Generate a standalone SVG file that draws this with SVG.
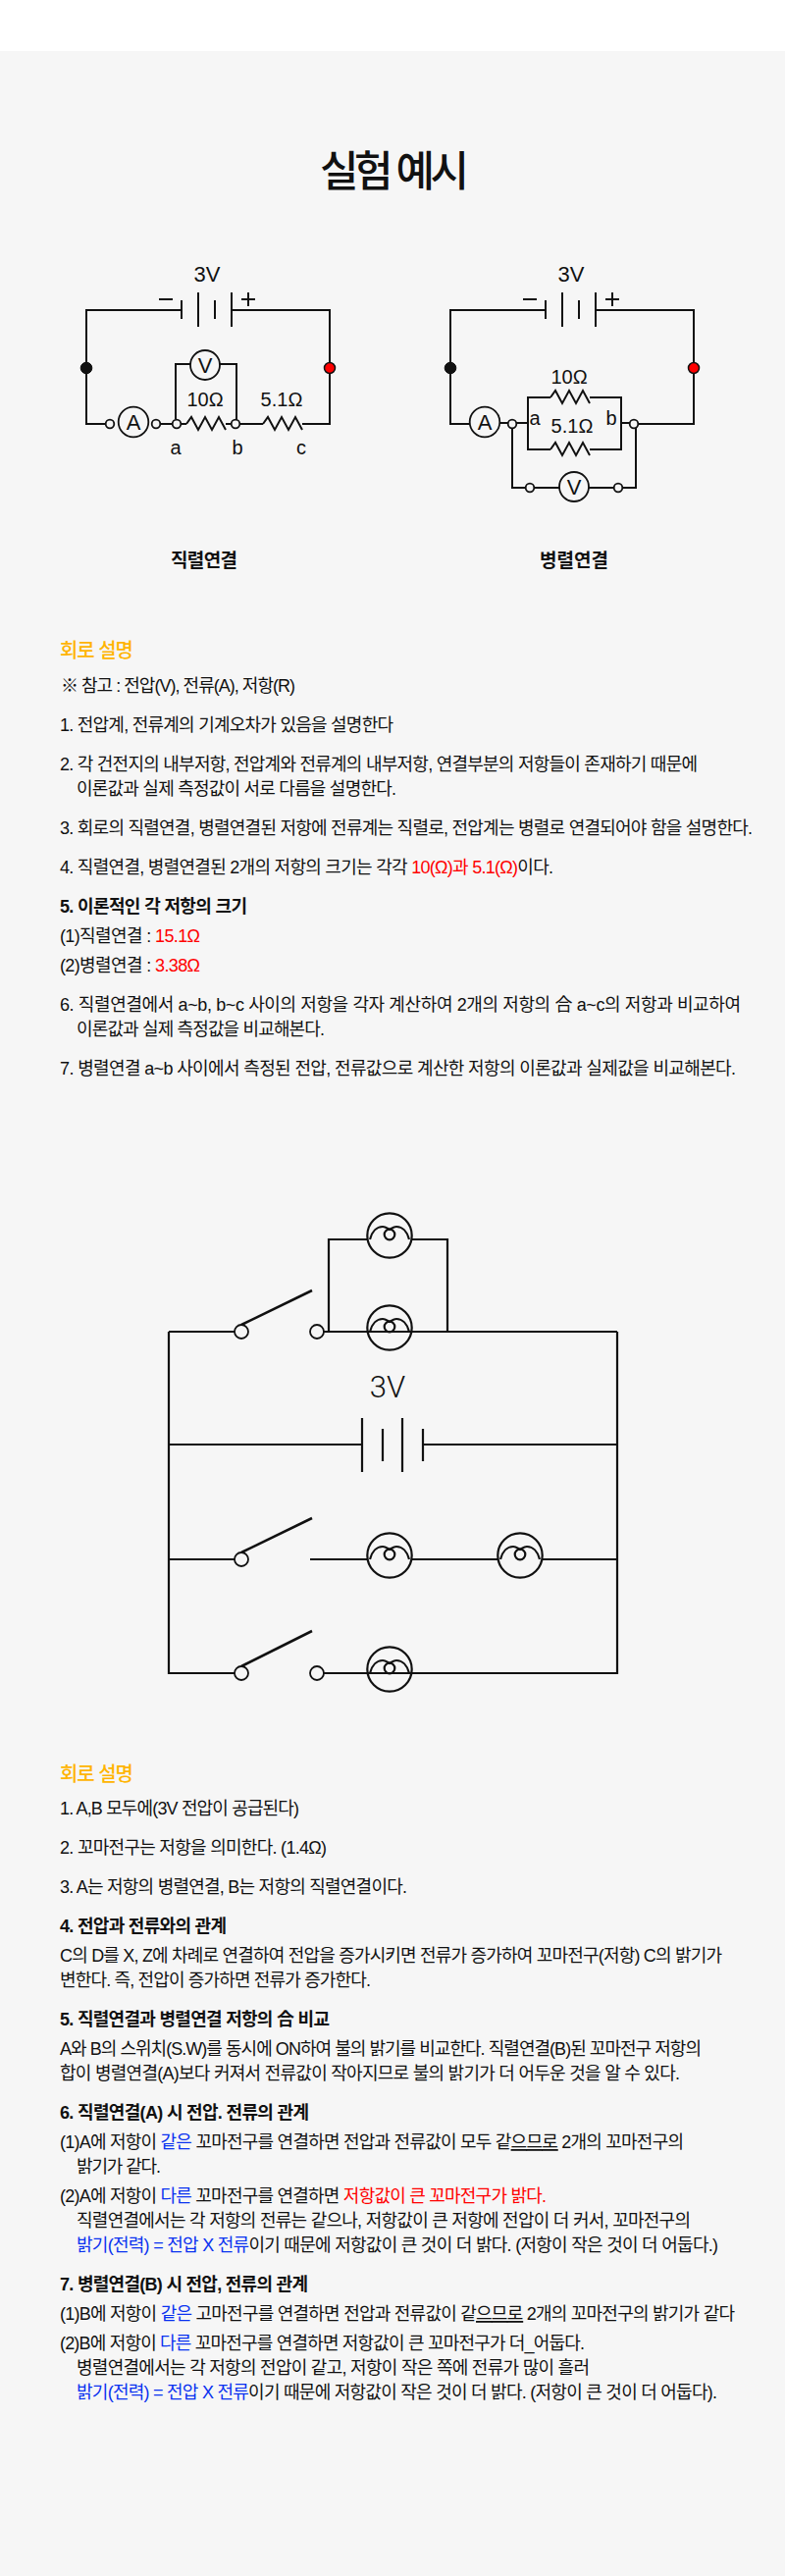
<svg xmlns="http://www.w3.org/2000/svg" width="800" height="2625" viewBox="0 0 800 2625">
<style>
text{font-family:"Liberation Sans","Noto Sans CJK KR",sans-serif;fill:#111;font-size:18px}
.w{fill:none;stroke:#111;stroke-width:2}
.w2{fill:none;stroke:#111;stroke-width:2.2}
.sw{fill:none;stroke:#111;stroke-width:2.6}
.t{fill:#f6f6f6;stroke:#111;stroke-width:1.8}
.m{fill:none;stroke:#111;stroke-width:1.8}
.b{font-weight:700}
.h{fill:#ffb400;font-size:20px;font-weight:500}
.r{fill:#f00}.bl{fill:#0a32f0}
.u{text-decoration:underline}
.l{font-size:20px}
.cap{font-size:19px;font-weight:700}
.sym{font-size:22px;text-anchor:middle}
.mid{text-anchor:middle}
</style>
<defs>
<path id="res" class="w" d="M0 0L5 -7L12 6L19 -7L26 6L33 -7L40 6"/>
<g id="bulb"><circle class="w2" r="22.7"/><circle class="w2" cy="-1" r="5.3"/><path class="w2" d="M-20 4C-18 -4 -13 -9 -7 -9C-4 -9 -2 -7 0 -6C2 -7 4 -9 7 -9C13 -9 18 -4 20 4"/></g>
<g id="batt1"><path class="w" d="M185 306V325M202 298V333M219 306V325M236 298V333"/><path class="w" d="M162 305H176M246 305H260M253 298V312"/></g>
</defs>
<rect width="800" height="2625" fill="#fff"/>
<rect y="52" width="800" height="2573" fill="#f6f6f6"/>
<text id="title" x="326" y="190" style="font-size:43px;font-weight:500" textLength="152" lengthAdjust="spacing">실험 예시</text>

<g id="connectors">
<path class="w" d="M185 316H88V432H108M236 316H336V432H308M268 432H244M230 432H236M184 432H190M163 432H176M179 427V371H194M224 371H241V428"/>
<path class="w" d="M556 316H459V432H479M607 316H707V432H650M510 431H518M526 431H538V405H561M601 405H633V431H642M538 431V458H561M601 458H633V431M522 436V497H536M544 497H570M600 497H626M634 497H648V436"/>
<path class="w2" d="M172 1357H239M330 1357H629M335 1357V1263H374M420 1263H456V1357M172 1357V1705H239M629 1357V1705H330M172 1472H369M431 1472H629M172 1589H239M316 1589H374M420 1589H507M553 1589H629"/>
</g>

<g id="circuit-series">
<use href="#batt1"/>
<text class="sym" x="211" y="287">3V</text>
<circle cx="88" cy="375" r="5.8" fill="#111" stroke="#111"/>
<circle cx="336" cy="375" r="5.5" fill="#f00" stroke="#111" stroke-width="1.5"/>
<g id="ammeter1"><circle class="m" cx="136" cy="430" r="15.3"/><text class="sym" x="136" y="438">A</text></g>
<g id="voltmeter1"><circle class="m" cx="209" cy="372" r="15"/><text class="sym" x="209" y="380">V</text></g>
<circle class="t" cx="112" cy="432" r="4.3"/><circle class="t" cx="159" cy="432" r="4.3"/><circle class="t" cx="180" cy="432" r="4.3"/><circle class="t" cx="240" cy="432" r="4.3"/>
<use href="#res" x="190" y="432"/><use href="#res" x="268" y="432"/>
<text class="l mid" x="209" y="414">10Ω</text><text class="l mid" x="287" y="414">5.1Ω</text>
<text class="l mid" x="179" y="463">a</text><text class="l mid" x="242" y="463">b</text><text class="l mid" x="307" y="463">c</text>
<text class="cap" x="174" y="578" textLength="68" lengthAdjust="spacing">직렬연결</text>
</g>

<g id="circuit-parallel">
<use href="#batt1" x="371"/>
<text class="sym" x="582" y="287">3V</text>
<circle cx="459" cy="375" r="5.8" fill="#111" stroke="#111"/>
<circle cx="707" cy="375" r="5.5" fill="#f00" stroke="#111" stroke-width="1.5"/>
<g id="ammeter2"><circle class="m" cx="494" cy="430" r="15.3"/><text class="sym" x="494" y="438">A</text></g>
<g id="voltmeter2"><circle class="m" cx="585" cy="496" r="15"/><text class="sym" x="585" y="504">V</text></g>
<circle class="t" cx="522" cy="432" r="4.3"/><circle class="t" cx="646" cy="432" r="4.3"/><circle class="t" cx="540" cy="497" r="4.3"/><circle class="t" cx="630" cy="497" r="4.3"/>
<use href="#res" x="561" y="405"/><use href="#res" x="561" y="458"/>
<text class="l mid" x="580" y="391">10Ω</text><text class="l mid" x="583" y="441">5.1Ω</text>
<text class="l mid" x="545" y="433">a</text><text class="l mid" x="623" y="433">b</text>
<text class="cap" x="550" y="578" textLength="70" lengthAdjust="spacing">병렬연결</text>
</g>

<g id="notes-1">
<text class="h" x="61" y="670" textLength="75" lengthAdjust="spacing">회로 설명</text>
<text x="62" y="705" textLength="239" lengthAdjust="spacing">※ 참고 : 전압(V), 전류(A), 저항(R)</text>
<text x="61" y="745" textLength="340" lengthAdjust="spacing">1. 전압계, 전류계의 기계오차가 있음을 설명한다</text>
<text x="61" y="785" textLength="650" lengthAdjust="spacing">2. 각 건전지의 내부저항, 전압계와 전류계의 내부저항, 연결부분의 저항들이 존재하기 때문에</text>
<text x="78" y="810" textLength="326" lengthAdjust="spacing">이론값과 실제 측정값이 서로 다름을 설명한다.</text>
<text x="61" y="850" textLength="706" lengthAdjust="spacing">3. 회로의 직렬연결, 병렬연결된 저항에 전류계는 직렬로, 전압계는 병렬로 연결되어야 함을 설명한다.</text>
<text x="61" y="890" textLength="503" lengthAdjust="spacing">4. 직렬연결, 병렬연결된 2개의 저항의 크기는 각각 <tspan class="r">10(Ω)과 5.1(Ω)</tspan>이다.</text>
<text class="b" x="61" y="930" textLength="191" lengthAdjust="spacing">5. 이론적인 각 저항의 크기</text>
<text x="61" y="960" textLength="143" lengthAdjust="spacing">(1)직렬연결 : <tspan class="r">15.1Ω</tspan></text>
<text x="61" y="990" textLength="143" lengthAdjust="spacing">(2)병렬연결 : <tspan class="r">3.38Ω</tspan></text>
<text x="61" y="1030" textLength="694" lengthAdjust="spacing">6. 직렬연결에서 a~b, b~c 사이의 저항을 각자 계산하여 2개의 저항의 合 a~c의 저항과 비교하여</text>
<text x="78" y="1055" textLength="253" lengthAdjust="spacing">이론값과 실제 측정값을 비교해본다.</text>
<text x="61" y="1095" textLength="689" lengthAdjust="spacing">7. 병렬연결 a~b 사이에서 측정된 전압, 전류값으로 계산한 저항의 이론값과 실제값을 비교해본다.</text>
</g>

<g id="circuit-bulbs">
<g id="sw1"><path class="sw" d="M246 1350L318 1315"/><circle class="t" cx="246" cy="1357" r="7"/><circle class="t" cx="323" cy="1357" r="7"/></g>
<g id="sw2"><path class="sw" d="M246 1582L318 1547"/><circle class="t" cx="246" cy="1589" r="7"/></g>
<g id="sw3"><path class="sw" d="M246 1698L318 1662"/><circle class="t" cx="246" cy="1705" r="7"/><circle class="t" cx="323" cy="1705" r="7"/></g>
<use id="bulb1" href="#bulb" x="397" y="1259"/>
<use id="bulb2" href="#bulb" x="397" y="1353"/>
<use id="bulb3" href="#bulb" x="397" y="1585"/>
<use id="bulb4" href="#bulb" x="530" y="1585"/>
<use id="bulb5" href="#bulb" x="397" y="1701"/>
<g id="battery"><path class="w2" d="M369 1445V1500M390 1456V1489M410 1445V1500M431 1456V1489"/><text x="395" y="1424" style="font-family:Roboto,sans-serif;font-size:31px;font-weight:300;text-anchor:middle">3V</text></g>
</g>

<g id="notes-2">
<text class="h" x="61" y="1815" textLength="75" lengthAdjust="spacing">회로 설명</text>
<text x="61" y="1849" textLength="244" lengthAdjust="spacing">1. A,B 모두에(3V 전압이 공급된다)</text>
<text x="61" y="1889" textLength="272" lengthAdjust="spacing">2. 꼬마전구는 저항을 의미한다. (1.4Ω)</text>
<text x="61" y="1929" textLength="354" lengthAdjust="spacing">3. A는 저항의 병렬연결, B는 저항의 직렬연결이다.</text>
<text class="b" x="61" y="1969" textLength="170" lengthAdjust="spacing">4. 전압과 전류와의 관계</text>
<text x="61" y="1999" textLength="675" lengthAdjust="spacing">C의 D를 X, Z에 차례로 연결하여 전압을 증가시키면 전류가 증가하여 꼬마전구(저항) C의 밝기가</text>
<text x="61" y="2024" textLength="317" lengthAdjust="spacing">변한다. 즉, 전압이 증가하면 전류가 증가한다.</text>
<text class="b" x="61" y="2064" textLength="275" lengthAdjust="spacing">5. 직렬연결과 병렬연결 저항의 合 비교</text>
<text x="61" y="2094" textLength="654" lengthAdjust="spacing">A와 B의 스위치(S.W)를 동시에 ON하여 불의 밝기를 비교한다. 직렬연결(B)된 꼬마전구 저항의</text>
<text x="61" y="2119" textLength="632" lengthAdjust="spacing">합이 병렬연결(A)보다 커져서 전류값이 작아지므로 불의 밝기가 더 어두운 것을 알 수 있다.</text>
<text class="b" x="61" y="2159" textLength="254" lengthAdjust="spacing">6. 직렬연결(A) 시 전압. 전류의 관계</text>
<text x="61" y="2189" textLength="636" lengthAdjust="spacing">(1)A에 저항이 <tspan class="bl">같은</tspan> 꼬마전구를 연결하면 전압과 전류값이 모두 같<tspan class="u">으므로</tspan> 2개의 꼬마전구의</text>
<text x="78" y="2214" textLength="86" lengthAdjust="spacing">밝기가 같다.</text>
<text x="61" y="2244" textLength="496" lengthAdjust="spacing">(2)A에 저항이 <tspan class="bl">다른</tspan> 꼬마전구를 연결하면 <tspan class="r">저항값이 큰 꼬마전구가 밝다.</tspan></text>
<text x="78" y="2269" textLength="626" lengthAdjust="spacing">직렬연결에서는 각 저항의 전류는 같으나, 저항값이 큰 저항에 전압이 더 커서, 꼬마전구의</text>
<text x="78" y="2294" textLength="654" lengthAdjust="spacing"><tspan class="bl">밝기(전력) = 전압 X 전류</tspan>이기 때문에 저항값이 큰 것이 더 밝다. (저항이 작은 것이 더 어둡다.)</text>
<text class="b" x="61" y="2334" textLength="253" lengthAdjust="spacing">7. 병렬연결(B) 시 전압, 전류의 관계</text>
<text x="61" y="2364" textLength="688" lengthAdjust="spacing">(1)B에 저항이 <tspan class="bl">같은</tspan> 고마전구를 연결하면 전압과 전류값이 같<tspan class="u">으므로</tspan> 2개의 꼬마전구의 밝기가 같다</text>
<text x="61" y="2394" textLength="535" lengthAdjust="spacing">(2)B에 저항이 <tspan class="bl">다른</tspan> 꼬마전구를 연결하면 저항값이 큰 꼬마전구가 더_어둡다.</text>
<text x="78" y="2419" textLength="523" lengthAdjust="spacing">병렬연결에서는 각 저항의 전압이 같고, 저항이 작은 쪽에 전류가 많이 흘러</text>
<text x="78" y="2444" textLength="653" lengthAdjust="spacing"><tspan class="bl">밝기(전력) = 전압 X 전류</tspan>이기 때문에 저항값이 작은 것이 더 밝다. (저항이 큰 것이 더 어둡다).</text>
</g>
</svg>
